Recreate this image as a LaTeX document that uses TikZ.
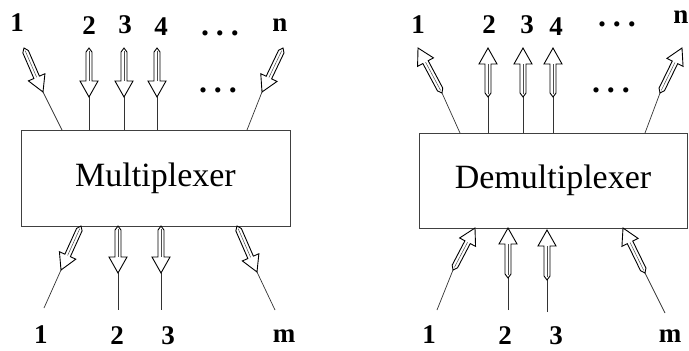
\documentclass[tikz,border=0pt]{standalone}
\usepackage{fontspec}
\setmainfont{Liberation Serif}
\usetikzlibrary{calc}
\tikzset{
  boxnode/.style={draw=black!75, line width=0.9pt, inner sep=0pt, font=\fontsize{34}{38}\selectfont},
  lbl/.style={inner sep=0pt, font=\bfseries\fontsize{27}{29}\selectfont},
  dotlbl/.style={inner sep=0pt, font=\bfseries\fontsize{32}{34}\selectfont},
  harr/.style={draw=black, line width=0.9pt, fill=white, line join=miter},
  hcore/.style={draw=black!70, line width=0.5pt},
  wire/.style={draw=black!80, line width=0.7pt}
}
% #1 tail coordinate, #2 tip coordinate
\newcommand{\hollowarr}[2]{%
  \draw[harr] (#1)
    -- ($(#1)!4pt!(#2)!3pt!90:(#2)$)
    -- ($(#2)!16pt!(#1)!3pt!-90:(#1)$)
    -- ($(#2)!16pt!(#1)!9pt!-90:(#1)$)
    -- (#2)
    -- ($(#2)!16pt!(#1)!9pt!90:(#1)$)
    -- ($(#2)!16pt!(#1)!3pt!90:(#1)$)
    -- ($(#1)!4pt!(#2)!3pt!-90:(#2)$)
    -- cycle;
  \draw[hcore] ($(#1)!3pt!(#2)$) -- ($(#2)!16pt!(#1)$);
}
\begin{document}
\begin{tikzpicture}[x=1pt,y=-1pt]
\useasboundingbox (0,0) rectangle (689,351);

% boxes
\node[boxnode, minimum width=269pt, minimum height=96pt] (mux) at (155.5,178) {Multiplexer};
\node[boxnode, minimum width=268pt, minimum height=95pt] (demux) at (553,180.5) {Demultiplexer};

% ---------- multiplexer inputs (top) ----------
\coordinate (mt1a) at (24,48);  \coordinate (mt1b) at (43,92);  \coordinate (mt1c) at (62,130);
\coordinate (mt2a) at (89,48);  \coordinate (mt2b) at (89,97);  \coordinate (mt2c) at (89,130);
\coordinate (mt3a) at (124,48); \coordinate (mt3b) at (124,97); \coordinate (mt3c) at (124,130);
\coordinate (mt4a) at (157,48); \coordinate (mt4b) at (157,97); \coordinate (mt4c) at (157,130);
\coordinate (mtna) at (283,48); \coordinate (mtnb) at (262,92); \coordinate (mtnc) at (247,130);
\foreach \k in {1,2,3,4,n}{
  \draw[wire] (mt\k b) -- (mt\k c);
  \hollowarr{mt\k a}{mt\k b}
}

% ---------- multiplexer outputs (bottom) ----------
\coordinate (mb1a) at (81,226);  \coordinate (mb1b) at (61,270);  \coordinate (mb1c) at (44,308);
\coordinate (mb2a) at (118,226); \coordinate (mb2b) at (118,273); \coordinate (mb2c) at (118,310);
\coordinate (mb3a) at (161,226); \coordinate (mb3b) at (161,273); \coordinate (mb3c) at (161,310);
\coordinate (mbma) at (237,226); \coordinate (mbmb) at (257,272); \coordinate (mbmc) at (275,310);
\foreach \k in {1,2,3,m}{
  \draw[wire] (mb\k b) -- (mb\k c);
  \hollowarr{mb\k a}{mb\k b}
}

% ---------- demultiplexer outputs (top) ----------
\coordinate (dt1c) at (460,133); \coordinate (dt1a) at (442,93); \coordinate (dt1b) at (418,48);
\coordinate (dt2c) at (488,133); \coordinate (dt2a) at (488,97); \coordinate (dt2b) at (488,48);
\coordinate (dt3c) at (523,133); \coordinate (dt3a) at (523,97); \coordinate (dt3b) at (523,48);
\coordinate (dt4c) at (553,133); \coordinate (dt4a) at (553,97); \coordinate (dt4b) at (553,48);
\coordinate (dtnc) at (645,133); \coordinate (dtna) at (660,93); \coordinate (dtnb) at (682,48);
\foreach \k in {1,2,3,4,n}{
  \draw[wire] (dt\k c) -- (dt\k a);
  \hollowarr{dt\k a}{dt\k b}
}

% ---------- demultiplexer inputs (bottom) ----------
\coordinate (db1c) at (437,310); \coordinate (db1a) at (453,270); \coordinate (db1b) at (475,228);
\coordinate (db2c) at (508,310); \coordinate (db2a) at (508,278); \coordinate (db2b) at (508,228);
\coordinate (db3c) at (547,312); \coordinate (db3a) at (547,280); \coordinate (db3b) at (547,230);
\coordinate (dbmc) at (665,313); \coordinate (dbma) at (645,273); \coordinate (dbmb) at (623,228);
\foreach \k in {1,2,3,m}{
  \draw[wire] (db\k c) -- (db\k a);
  \hollowarr{db\k a}{db\k b}
}

% ---------- labels ----------
\node[lbl] (lmt1) at (17,23) {1};
\node[lbl] (lmt2) at (89,26) {2};
\node[lbl] (lmt3) at (125,25) {3};
\node[lbl] (lmt4) at (161,27) {4};
\node[lbl] (lmtn) at (280,25) {n};
\node[dotlbl] (lmtd) at (220,33) {.\hspace{7pt}.\hspace{7pt}.};
\node[dotlbl] (lmtd2) at (218,90) {.\hspace{7pt}.\hspace{7pt}.};

\node[lbl] (lmb1) at (41,335) {1};
\node[lbl] (lmb2) at (117,336) {2};
\node[lbl] (lmb3) at (168,336) {3};
\node[lbl] (lmbm) at (284,336) {m};

\node[lbl] (ldt1) at (418,25) {1};
\node[lbl] (ldt2) at (489,25) {2};
\node[lbl] (ldt3) at (527,25) {3};
\node[lbl] (ldt4) at (556,27) {4};
\node[lbl] (ldtn) at (681,17) {n};
\node[dotlbl] (ldtd) at (617,24) {.\hspace{7pt}.\hspace{7pt}.};
\node[dotlbl] (ldtd2) at (611,90) {.\hspace{7pt}.\hspace{7pt}.};

\node[lbl] (ldb1) at (429,335) {1};
\node[lbl] (ldb2) at (505,336) {2};
\node[lbl] (ldb3) at (556,336) {3};
\node[lbl] (ldbm) at (670,336) {m};
\end{tikzpicture}
\end{document}
